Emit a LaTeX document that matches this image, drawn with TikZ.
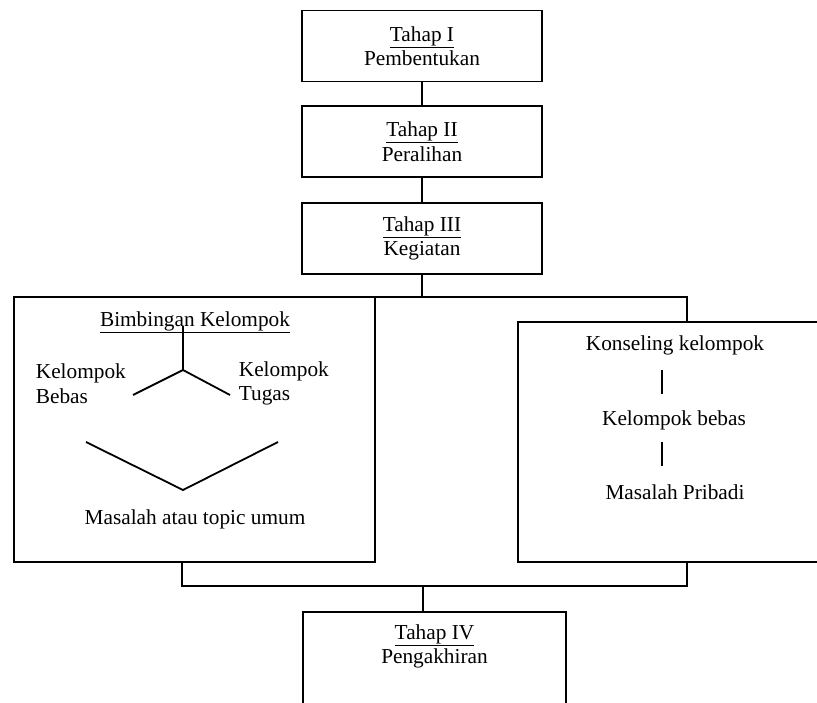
\documentclass[tikz,border=0pt]{standalone}
\usepackage{fontspec}
\setmainfont{Liberation Serif}
\begin{document}
\begin{tikzpicture}[x=1pt,y=-1pt,line width=1.8pt,
  every node/.style={font=\fontsize{21.3}{24.5}\selectfont},
  stagebox/.style={draw,rectangle,minimum width=240pt,minimum height=71pt,align=center,inner sep=0pt},
  plainbox/.style={draw,rectangle,inner sep=0pt},
  txt/.style={inner sep=0pt,align=center},
  ltxt/.style={inner sep=0pt,align=left,anchor=west}]
\useasboundingbox (0,0) rectangle (817,703);
\clip (0,0) rectangle (817,703);
% stages
\node[stagebox] (b1) at (422,46) {\underline{Tahap I}\\Pembentukan};
\node[stagebox] (b2) at (422,141.5) {\underline{Tahap II}\\Peralihan};
\node[stagebox] (b3) at (422,238.5) {\underline{Tahap III}\\Kegiatan};
\draw (b1.south) -- (b2.north);
\draw (b2.south) -- (b3.north);
% big boxes
\node[plainbox,minimum width=361pt,minimum height=265pt] (lbox) at (194.5,429.5) {};
\node[plainbox,minimum width=314pt,minimum height=240pt] (rbox) at (675,442) {};
% stage IV box (runs past the bottom edge)
\node[plainbox,minimum width=263pt,minimum height=150pt,anchor=north] (b4) at (434.5,611) {};
\node[txt] (b4t) at (434.5,646.5) {\underline{Tahap IV}\\Pengakhiran};
% top bus
\coordinate (busTL) at (182,297);
\coordinate (busTR) at (687,297);
\draw (b3.south) -- (b3.south |- busTL);
\draw (busTL) -- (busTR) -- (busTR |- rbox.north);
% bottom bus
\coordinate (busBL) at (182,586);
\coordinate (busBR) at (687,586);
\coordinate (busBC) at (423,586);
\draw (lbox.south -| busBL) -- (busBL) -- (busBR) -- (rbox.south -| busBR);
\draw (busBC) -- (b4.north -| busBC);
% left box contents
\node[txt] (bk) at (195,322) {\underline{Bimbingan Kelompok}};
\node[ltxt] (kb) at (35,383.5) {Kelompok\\Bebas};
\node[ltxt] (kt) at (238,383.5) {Kelompok\\Tugas};
\node[txt] (mt) at (195,519) {Masalah atau topic umum};
\coordinate (t0) at (183,326);
\coordinate (t1) at (183,370);
\coordinate (t2) at (133,395);
\coordinate (t3) at (230,395);
\draw (t0) -- (t1);
\draw (t2) -- (t1) -- (t3);
\coordinate (v1) at (86,442);
\coordinate (v2) at (183,490);
\coordinate (v3) at (278,442);
\draw (v1) -- (v2) -- (v3);
% right box contents
\node[txt] (kk) at (675,345) {Konseling kelompok};
\node[txt] (kbb) at (674,420) {Kelompok bebas};
\node[txt] (mp) at (675,492) {Masalah Pribadi};
\coordinate (r1a) at (662,370);
\coordinate (r1b) at (662,394);
\coordinate (r2a) at (662,442);
\coordinate (r2b) at (662,466);
\draw (r1a) -- (r1b);
\draw (r2a) -- (r2b);
\end{tikzpicture}
\end{document}
